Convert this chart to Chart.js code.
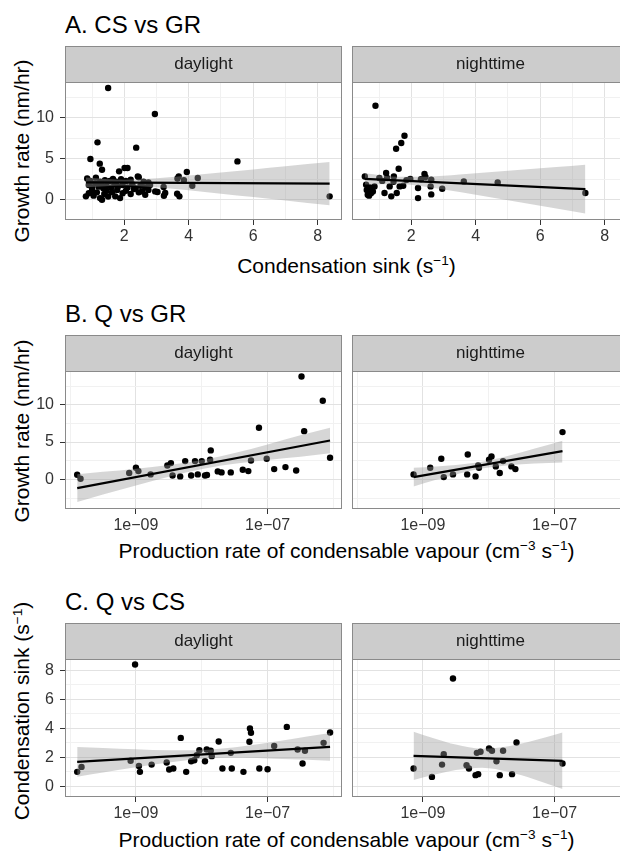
<!DOCTYPE html>
<html lang="en">
<head>
<meta charset="UTF-8" />
<title>CS, Q and GR, daylight vs nighttime</title>
<script src="https://cdn.jsdelivr.net/npm/chart.js"></script>
<style>
  *{margin:0;padding:0;box-sizing:border-box}
  html,body{width:620px;height:852px;overflow:hidden;background:#fff;font-family:"Liberation Sans",Arial,sans-serif;color:#000}
  canvas{position:absolute}
  .title{position:absolute;left:65px;font-size:24px;line-height:24px;white-space:nowrap}
  .xlab{position:absolute;left:65px;width:563px;text-align:center;font-size:21px;line-height:21px;white-space:nowrap}
  .ylab{position:absolute;left:-128px;width:300px;height:24px;line-height:24px;text-align:center;font-size:21px;transform:rotate(-90deg);white-space:nowrap}
  sup{font-size:0.65em;position:relative;top:-0.55em;vertical-align:baseline;line-height:0}
</style>
</head>
<body>

<div class="title" style="top:13px">A. CS vs GR</div>
<div class="title" style="top:302px">B. Q vs GR</div>
<div class="title" style="top:590px">C. Q vs CS</div>

<div class="ylab" style="top:139px">Growth rate (nm/hr)</div>
<div class="ylab" style="top:419px">Growth rate (nm/hr)</div>
<div class="ylab" style="top:699px">Condensation sink (s<sup>−1</sup>)</div>

<div class="xlab" style="top:254.5px">Condensation sink (s<sup>−1</sup>)</div>
<div class="xlab" style="top:539.5px">Production rate of condensable vapour (cm<sup>−3</sup> s<sup>−1</sup>)</div>
<div class="xlab" style="top:828.5px">Production rate of condensable vapour (cm<sup>−3</sup> s<sup>−1</sup>)</div>

<canvas id="aDay" width="347" height="204" style="left:0;top:46px"></canvas>
<canvas id="aNight" width="290" height="204" style="left:347px;top:46px"></canvas>
<canvas id="bDay" width="347" height="204" style="left:0;top:335px"></canvas>
<canvas id="bNight" width="290" height="204" style="left:347px;top:335px"></canvas>
<canvas id="cDay" width="347" height="204" style="left:0;top:623px"></canvas>
<canvas id="cNight" width="290" height="204" style="left:347px;top:623px"></canvas>

<script>
// ---- A. condensation sink (s^-1) vs growth rate (nm/hr) ----
const aDayCS = [1.50, 2.95, 1.17, 2.37, 0.95, 1.24, 1.31, 5.51, 1.84, 2.01, 2.10, 2.42, 8.37,
  0.85, 0.95, 1.12, 1.25, 1.40, 1.55, 1.65, 1.75, 1.90, 2.05, 2.20, 2.45, 2.60, 2.75,
  0.90, 1.00, 1.10, 1.20, 1.30, 1.35, 1.45, 1.60, 1.70, 1.80, 1.95, 2.10, 2.25, 2.35, 2.50, 2.65, 2.80,
  0.81, 0.90, 1.00, 1.05, 1.15, 1.25, 1.31, 1.38, 1.45, 1.50, 1.62, 1.72, 1.78, 1.87, 1.95, 2.05, 2.20, 2.30, 2.45, 2.55, 2.65, 2.75,
  2.96, 3.03, 3.22, 3.27, 3.23, 3.64, 3.71, 3.65, 3.69, 3.94, 4.11, 4.28, 3.85];
const aDayGR = [13.67, 10.49, 7.02, 6.37, 4.98, 4.41, 3.67, 4.69, 3.47, 3.88, 3.88, 2.86, 0.41,
  2.60, 2.30, 2.70, 2.20, 2.40, 2.30, 2.55, 2.20, 2.50, 2.30, 2.45, 2.75, 2.20, 2.10,
  1.80, 1.50, 2.00, 1.60, 1.90, 1.40, 1.70, 1.50, 1.90, 1.60, 1.80, 1.50, 1.90, 1.40, 1.70, 1.50, 1.80,
  0.41, 0.80, 1.10, 0.50, 0.90, 0.20, 0.00, 0.70, 1.10, 0.40, 0.90, 0.41, 1.20, 0.20, 0.80, 1.10, 0.70, 1.31, 0.90, 1.02, 0.60, 1.20,
  1.02, 0.94, 1.55, 0.82, 0.49, 0.73, 0.41, 2.60, 2.86, 3.39, 1.71, 2.65, 2.40];
const aNightCS = [0.89, 1.79, 1.69, 1.53, 1.61, 1.22, 2.41, 0.56, 1.46, 1.97, 2.44, 2.62, 3.63, 4.68, 7.40,
  2.96, 2.60, 2.21, 2.21, 2.62, 1.75, 1.64, 1.38, 1.33, 1.17, 1.55, 0.60, 0.65, 0.69, 0.81,
  0.86, 1.01, 1.25, 0.62, 0.75, 0.72, 1.10, 1.45, 2.30, 1.85];
const aNightGR = [11.5, 7.83, 6.94, 6.24, 3.79, 3.26, 3.14, 2.85, 2.85, 2.53, 2.78, 2.45, 2.24, 2.12, 0.82,
  1.35, 1.63, 1.43, 0.20, 0.65, 1.71, 1.63, 0.41, 1.63, 0.82, 0.82, 1.84, 0.61, 0.50, 1.02,
  1.63, 2.65, 2.65, 1.20, 0.80, 1.50, 2.30, 2.20, 2.50, 2.40];
// linear fit and its confidence band
const aDayFitX = [0.81, 8.37], aDayFitY = [2.12, 1.96];
const aDayBandX = [0.81, 2, 3, 4, 5, 6, 7, 8.37];
const aDayBandLo = [1.52, 1.75, 1.52, 1.15, 0.73, 0.32, -0.11, -0.69];
const aDayBandHi = [2.72, 2.45, 2.62, 2.95, 3.33, 3.70, 4.09, 4.61];
const aNightFitX = [0.56, 7.40], aNightFitY = [2.55, 1.30];
const aNightBandX = [0.56, 1.6, 2.5, 3.5, 4.5, 5.5, 6.5, 7.4];
const aNightBandLo = [1.86, 1.91, 1.56, 0.94, 0.28, -0.39, -1.08, -1.69];
const aNightBandHi = [3.24, 2.81, 2.82, 3.08, 3.38, 3.69, 4.00, 4.29];

// ---- B. production rate Q (cm^-3 s^-1) vs growth rate ----
const bDayQ = [1.28e-10, 1.44e-10, 7.9e-10, 1.0e-9, 1.09e-9, 1.67e-9, 3.0e-9, 3.4e-9, 3.6e-9, 4.7e-9,
  5.6e-9, 6.9e-9, 7.9e-9, 8.7e-9, 1.0e-8, 1.12e-8, 1.2e-8, 1.34e-8, 1.37e-8, 1.75e-8, 2.0e-8, 2.76e-8,
  4.2e-8, 5.1e-8, 5.6e-8, 7.4e-8, 9.7e-8, 1.26e-7, 1.87e-7, 2.72e-7, 3.28e-7, 3.6e-7, 6.9e-7, 8.9e-7];
const bDayGR = [0.62, 0.09, 0.85, 1.56, 1.11, 0.67, 1.87, 2.18, 0.53, 0.40,
  2.45, 0.53, 2.45, 0.67, 2.45, 0.53, 0.60, 2.63, 3.88, 1.07, 0.94, 0.94,
  1.29, 1.11, 2.54, 6.91, 2.76, 1.38, 1.65, 1.20, 13.77, 6.46, 10.52, 2.90];
const bNightQ = [7.2e-10, 1.29e-9, 1.9e-9, 2.07e-9, 2.86e-9, 4.7e-9, 4.8e-9, 6.3e-9, 7.1e-9, 6.9e-9,
  1.01e-8, 1.1e-8, 1.28e-8, 1.47e-8, 1.65e-8, 2.21e-8, 2.54e-8, 1.32e-7];
const bNightGR = [0.67, 1.56, 2.76, 0.31, 0.67, 0.67, 3.34, 0.40, 1.56, 1.87,
  2.63, 3.07, 1.74, 0.85, 2.45, 1.74, 1.38, 6.33];
const bDayFitX = [1.28e-10, 8.9e-7], bDayFitY = [-1.16, 5.21];
const bDayBandX = [1.28e-10, 3.16e-10, 1e-9, 3.16e-9, 1.12e-8, 3.16e-8, 1e-7, 3.16e-7, 8.9e-7];
const bDayBandLo = [-3.01, -2.03, -0.80, 0.37, 1.47, 2.09, 2.60, 3.03, 3.49];
const bDayBandHi = [0.69, 1.01, 1.44, 1.93, 2.67, 3.53, 4.68, 5.91, 6.93];
const bNightFitX = [7.2e-10, 1.32e-7], bNightFitY = [0.31, 3.79];
const bNightBandX = [7.2e-10, 1.58e-9, 3.16e-9, 7.9e-9, 2.0e-8, 5.0e-8, 1.32e-7];
const bNightBandLo = [-0.94, -0.06, 0.67, 1.46, 1.90, 2.14, 2.26];
const bNightBandHi = [1.56, 1.74, 1.93, 2.36, 3.16, 4.14, 5.18];

// ---- C. production rate Q vs condensation sink ----
const cDayQ = [1.28e-10, 1.49e-10, 8.3e-10, 9.7e-10, 1.11e-9, 1.15e-9, 1.73e-9, 2.93e-9, 3.2e-9, 3.7e-9,
  4.8e-9, 5.8e-9, 6.9e-9, 7.7e-9, 8.4e-9, 9.2e-9, 1.12e-8, 1.19e-8, 1.37e-8, 1.42e-8, 1.81e-8, 2.06e-8,
  2.76e-8, 2.86e-8, 4.3e-8, 5.3e-8, 5.4e-8, 5.6e-8, 7.5e-8, 1.0e-7, 1.26e-7, 1.96e-7, 2.86e-7, 3.4e-7,
  3.7e-7, 7.1e-7, 8.9e-7];
const cDayCS = [0.99, 1.33, 1.75, 8.39, 1.40, 0.99, 1.49, 1.63, 1.15, 1.22,
  3.33, 0.99, 1.72, 1.79, 2.14, 2.48, 1.72, 2.53, 2.44, 2.07, 3.08, 1.22,
  2.30, 1.22, 0.99, 3.06, 3.98, 3.68, 1.22, 1.17, 2.78, 4.09, 2.53, 1.56,
  2.44, 2.99, 3.70];
const cNightQ = [7.2e-10, 1.37e-9, 1.95e-9, 2.07e-9, 2.86e-9, 4.6e-9, 5.0e-9, 6.3e-9, 6.9e-9, 6.6e-9,
  7.5e-9, 1.01e-8, 1.12e-8, 1.31e-8, 1.47e-8, 1.65e-8, 2.26e-8, 2.64e-8, 1.32e-7];
const cNightCS = [1.22, 0.64, 1.49, 2.21, 7.43, 1.45, 1.22, 0.76, 0.83, 2.30,
  2.37, 2.60, 2.44, 1.72, 0.76, 2.44, 0.83, 3.01, 1.56];
const cDayFitX = [1.28e-10, 8.9e-7], cDayFitY = [1.68, 2.71];
const cDayBandX = [1.28e-10, 3.16e-10, 1e-9, 3.16e-9, 1.26e-8, 3.98e-8, 1.26e-7, 3.98e-7, 8.9e-7];
const cDayBandLo = [0.65, 0.94, 1.30, 1.63, 1.92, 1.96, 1.90, 1.82, 1.75];
const cDayBandHi = [2.71, 2.64, 2.54, 2.47, 2.52, 2.74, 3.06, 3.42, 3.67];
const cNightFitX = [7.2e-10, 1.32e-7], cNightFitY = [2.09, 1.75];
const cNightBandX = [7.2e-10, 1.58e-9, 3.16e-9, 7.9e-9, 2.0e-8, 5.0e-8, 1.32e-7];
const cNightBandLo = [0.42, 0.82, 1.11, 1.28, 0.99, 0.46, -0.20];
const cNightBandHi = [3.76, 3.26, 2.87, 2.58, 2.75, 3.16, 3.70];

// ---- axis breaks ----
const csTicks = [2, 4, 6, 8], csTickLabels = ['2', '4', '6', '8'], csMinor = [1, 3, 5, 7];
const qTicks = [1e-9, 1e-7], qTickLabels = ['1e\u221209', '1e\u221207'], qMinor = [1e-10, 1e-8, 1e-6];
const grTicks = [0, 5, 10], grTickLabels = ['0', '5', '10'];
const csyTicks = [0, 2, 4, 6, 8], csyTickLabels = ['0', '2', '4', '6', '8'], csyMinor = [1, 3, 5, 7];

const STRIP = 36;
const GRID_MAJOR = '#e2e2e2', GRID_MINOR = '#f1f1f1', FRAME = '#8a8a8a';
Chart.defaults.font.family = '"Liberation Sans", Arial, sans-serif';

function same(v, m) { return m === 0 ? Math.abs(v) < 1e-9 : Math.abs(v / m - 1) < 1e-6; }

// strip on top of each facet + the grey panel border
const facetFrame = {
  id: 'facetFrame',
  beforeDraw(chart, args, opts) {
    const {ctx, chartArea: a} = chart;
    ctx.save();
    ctx.fillStyle = '#cccccc';
    ctx.fillRect(a.left, a.top - STRIP, a.right - a.left, STRIP);
    ctx.strokeStyle = FRAME;
    ctx.lineWidth = 1;
    ctx.strokeRect(Math.round(a.left) + 0.5, a.top - STRIP + 0.5, Math.round(a.right - a.left) - 1, STRIP);
    ctx.fillStyle = '#1a1a1a';
    ctx.font = '17px "Liberation Sans", Arial, sans-serif';
    ctx.textAlign = 'center';
    ctx.textBaseline = 'middle';
    ctx.fillText(opts.label, (a.left + a.right) / 2, a.top - STRIP / 2);
    ctx.restore();
  },
  afterDraw(chart) {
    const {ctx, chartArea: a} = chart;
    ctx.save();
    ctx.strokeStyle = FRAME;
    ctx.lineWidth = 1;
    ctx.strokeRect(Math.round(a.left) + 0.5, Math.round(a.top) + 0.5, Math.round(a.right - a.left) - 1, Math.round(a.bottom - a.top) - 1);
    ctx.restore();
  }
};

function axis(type, min, max, majors, labels, minors, showLabels, size) {
  const isMajor = v => majors.some(m => same(v, m));
  return {
    type, min, max,
    border: {display: false},
    afterBuildTicks: s => {
      s.ticks = majors.concat(minors).filter(v => v >= min && v <= max)
        .sort((p, q) => p - q).map(v => ({value: v}));
    },
    afterFit: size,
    ticks: {
      display: showLabels, autoSkip: false, maxRotation: 0, padding: 2,
      color: '#333', font: {size: 16},
      callback: v => { const i = majors.findIndex(m => same(v, m)); return i >= 0 ? labels[i] : ''; }
    },
    grid: {
      lineWidth: 1, drawTicks: showLabels, tickLength: 5, tickWidth: 1,
      color: c => (c.tick && isMajor(c.tick.value)) ? GRID_MAJOR : GRID_MINOR,
      tickColor: c => (c.tick && isMajor(c.tick.value)) ? '#333' : 'rgba(0,0,0,0)'
    }
  };
}

function facet(id, label, left, xs, ys, fitX, fitY, bandX, bandLo, bandHi, xAxis, yAxis) {
  const pts = xs.map((x, i) => ({x, y: ys[i]}));
  const lo = bandX.map((x, i) => ({x, y: bandLo[i]}));
  const hi = bandX.map((x, i) => ({x, y: bandHi[i]}));
  const fit = fitX.map((x, i) => ({x, y: fitY[i]}));
  yAxis.ticks.padding = 6;
  return new Chart(document.getElementById(id), {
    type: 'scatter',
    data: {
      datasets: [
        {data: pts, pointRadius: 3.2, pointBackgroundColor: '#000', pointBorderWidth: 0, order: 3},
        {data: lo, showLine: true, pointRadius: 0, borderWidth: 0, borderColor: 'rgba(0,0,0,0)',
         fill: false, cubicInterpolationMode: 'monotone', order: 2},
        {data: hi, showLine: true, pointRadius: 0, borderWidth: 0, borderColor: 'rgba(0,0,0,0)',
         fill: '-1', backgroundColor: 'rgba(153,153,153,0.4)', cubicInterpolationMode: 'monotone', order: 2},
        {data: fit, showLine: true, pointRadius: 0, borderColor: '#000', borderWidth: 2.2, order: 1}
      ]
    },
    options: {
      responsive: false, animation: false, events: [],
      layout: {padding: {top: STRIP, left: 0, bottom: 0, right: left ? 5 : 8}},
      plugins: {legend: {display: false}, tooltip: {enabled: false}, facetFrame: {label}},
      scales: {x: xAxis, y: yAxis}
    },
    plugins: [facetFrame]
  });
}

const xH = s => { s.height = 30; };
const yWL = s => { s.width = 65; };
const yWR = s => { s.width = 5; };
const csX = () => axis('linear', 0.162, 8.753, csTicks, csTickLabels, csMinor, true, xH);
const qX = () => axis('logarithmic', Math.pow(10, -10.078), Math.pow(10, -5.869), qTicks, qTickLabels, qMinor, true, xH);
const grYA = show => axis('linear', -2.48, 14.4, grTicks, grTickLabels, [-2.5, 2.5, 7.5, 12.5], show, show ? yWL : yWR);
const grYB = show => axis('linear', -3.96, 14.51, grTicks, grTickLabels, [-2.5, 2.5, 7.5, 12.5], show, show ? yWL : yWR);
const csY = show => axis('linear', -0.745, 8.77, csyTicks, csyTickLabels, csyMinor, show, show ? yWL : yWR);

facet('aDay', 'daylight', true, aDayCS, aDayGR, aDayFitX, aDayFitY, aDayBandX, aDayBandLo, aDayBandHi, csX(), grYA(true));
facet('aNight', 'nighttime', false, aNightCS, aNightGR, aNightFitX, aNightFitY, aNightBandX, aNightBandLo, aNightBandHi, csX(), grYA(false));
facet('bDay', 'daylight', true, bDayQ, bDayGR, bDayFitX, bDayFitY, bDayBandX, bDayBandLo, bDayBandHi, qX(), grYB(true));
facet('bNight', 'nighttime', false, bNightQ, bNightGR, bNightFitX, bNightFitY, bNightBandX, bNightBandLo, bNightBandHi, qX(), grYB(false));
facet('cDay', 'daylight', true, cDayQ, cDayCS, cDayFitX, cDayFitY, cDayBandX, cDayBandLo, cDayBandHi, qX(), csY(true));
facet('cNight', 'nighttime', false, cNightQ, cNightCS, cNightFitX, cNightFitY, cNightBandX, cNightBandLo, cNightBandHi, qX(), csY(false));
</script>
</body>
</html>
